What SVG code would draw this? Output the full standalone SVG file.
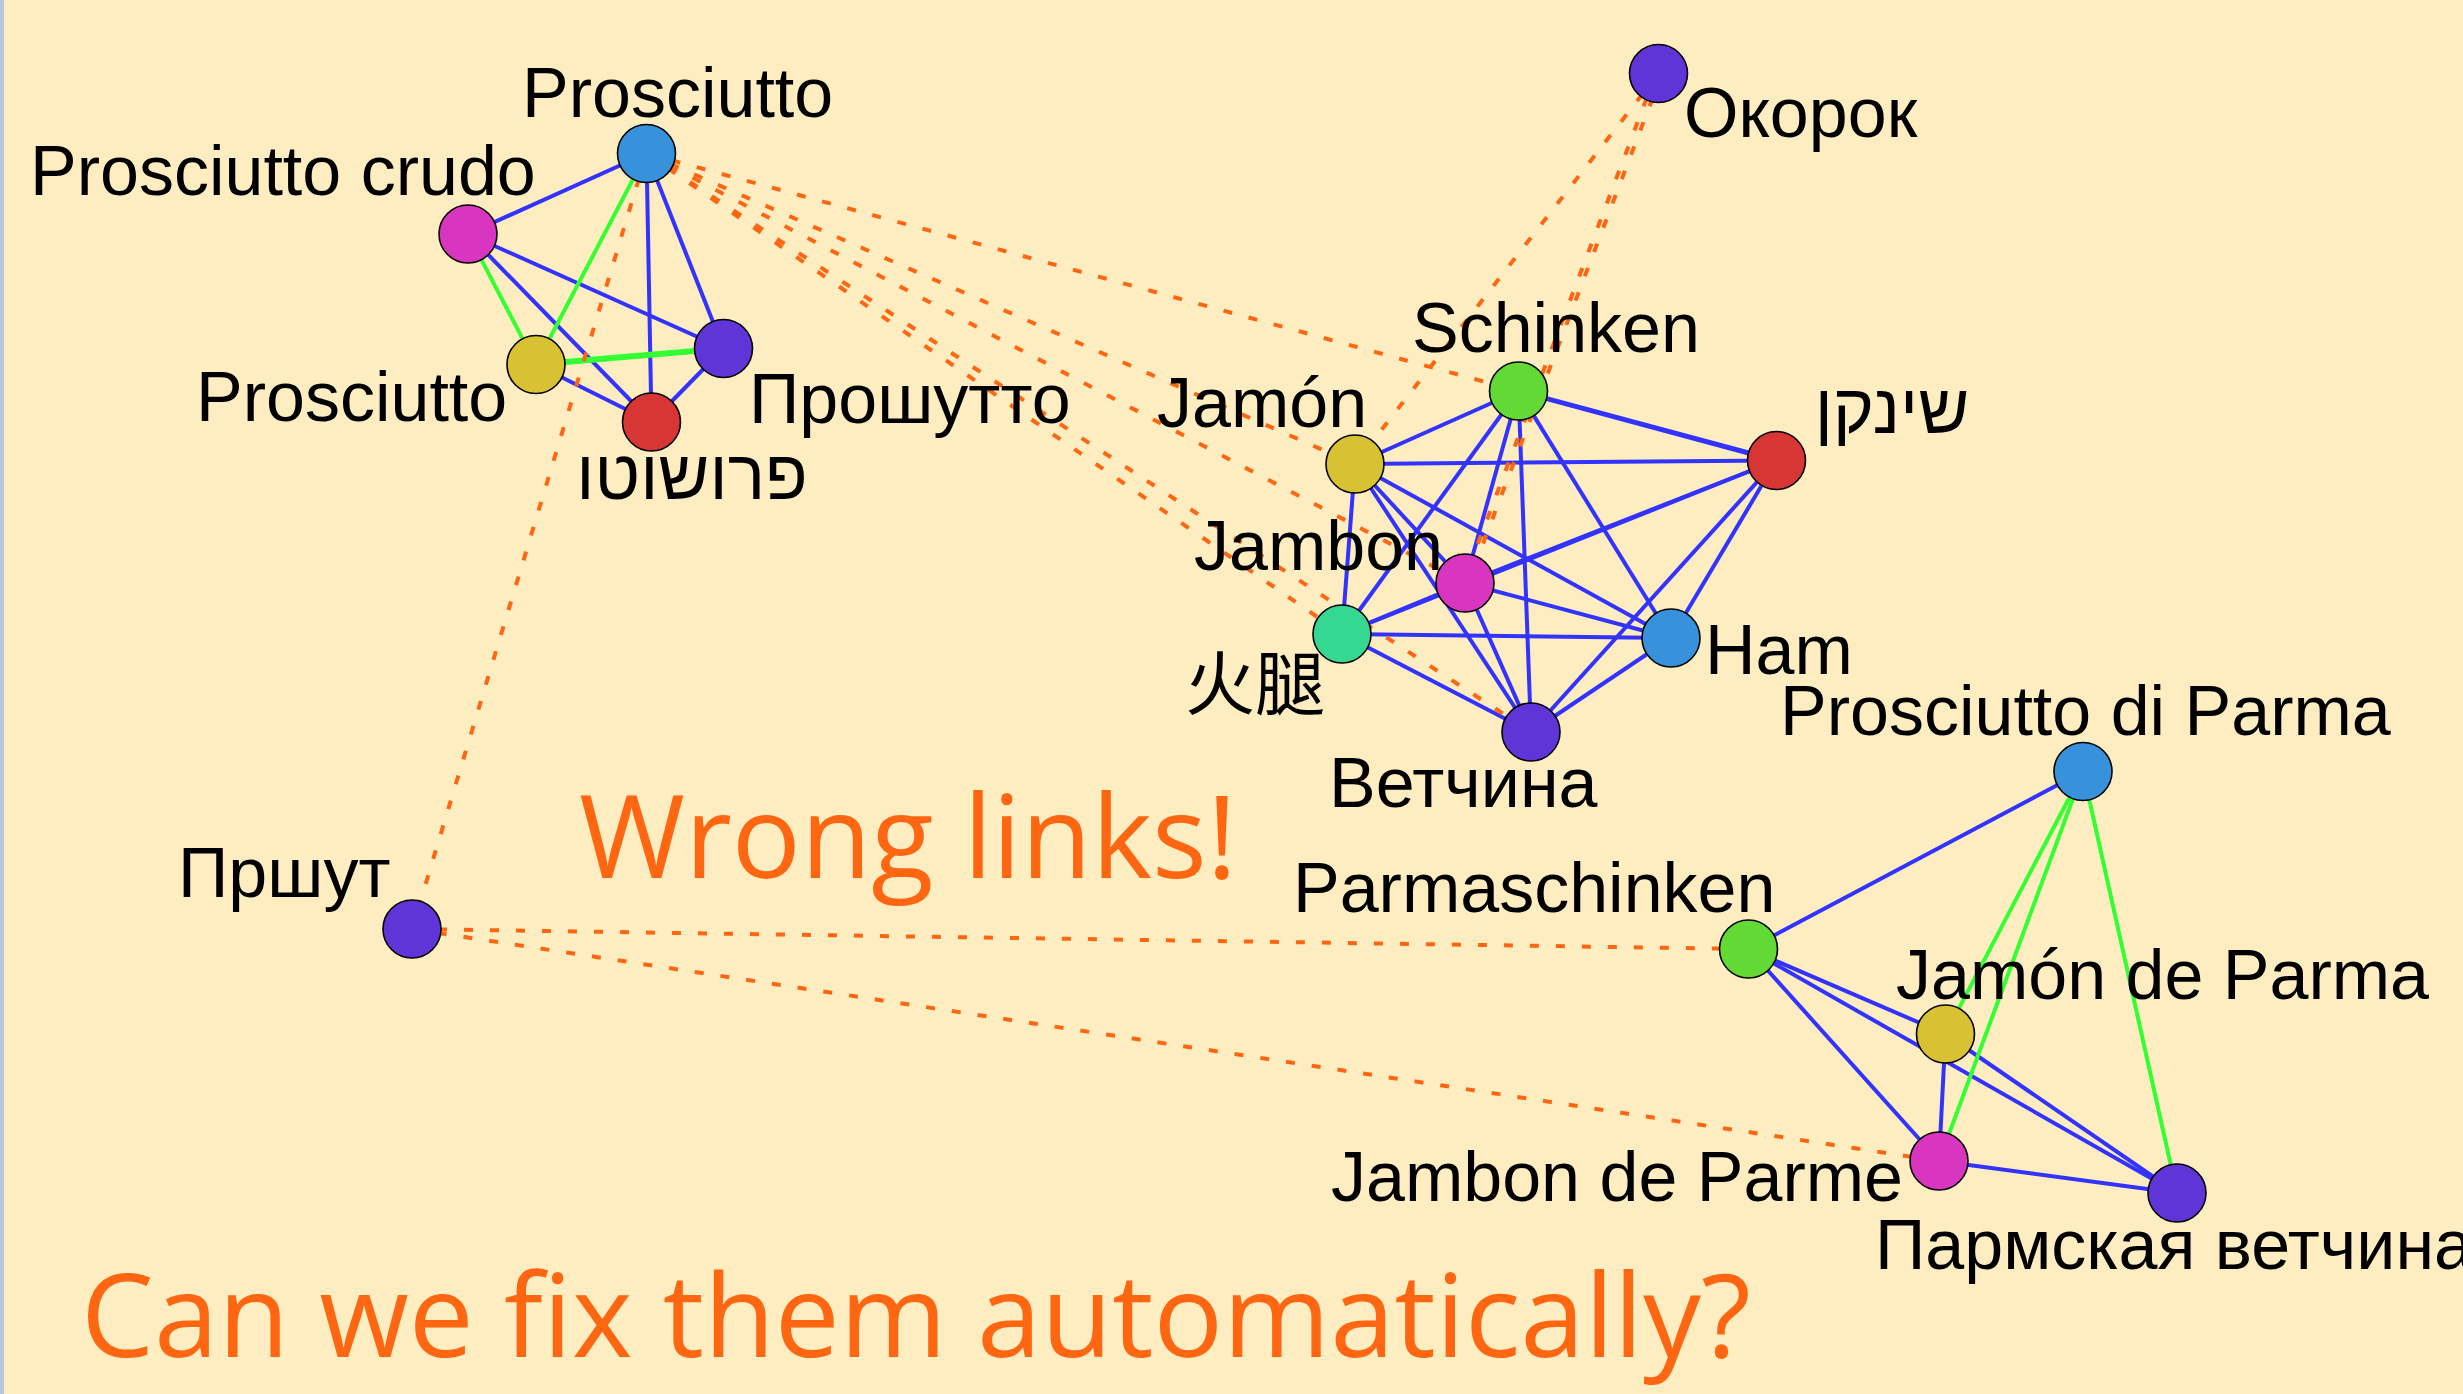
<svg xmlns="http://www.w3.org/2000/svg" width="2463" height="1394" viewBox="0 0 2463 1394">
<style>
.e{stroke:#3333ff;stroke-width:4;fill:none}
.g{stroke:#33ff33;stroke-width:4;fill:none}
.d{stroke:#ff6611;stroke-width:4;stroke-dasharray:9 17;fill:none}
.n{stroke:#000;stroke-width:1.6}
.blue{fill:#3891db}.mag{fill:#d835c1}.yel{fill:#d9c134}.pur{fill:#6035d8}.red{fill:#d83535}.grn{fill:#63d936}.teal{fill:#35d891}
.l{font-family:"Liberation Sans",Arial,"Noto Sans CJK SC",sans-serif;font-size:70px;fill:#000}
.t{font-family:"Open Sans","Noto Sans",sans-serif;font-size:116px;fill:#ff6611}
</style>
<rect width="2463" height="1394" fill="#ffedc2"/>
<rect width="4" height="1394" fill="#b8c5e0"/>
<g id="connectors">
<line class="e" x1="646.5" y1="153.5" x2="468" y2="234"/>
<line class="e" x1="646.5" y1="153.5" x2="651.5" y2="422"/>
<line class="e" x1="646.5" y1="153.5" x2="723.5" y2="348.5"/>
<line class="e" x1="468" y1="234" x2="723.5" y2="348.5"/>
<line class="e" x1="468" y1="234" x2="651.5" y2="422"/>
<line class="e" x1="536" y1="364.5" x2="651.5" y2="422"/>
<line class="e" x1="723.5" y1="348.5" x2="651.5" y2="422"/>
<line class="g" x1="646.5" y1="153.5" x2="536" y2="364.5"/>
<line class="g" x1="468" y1="234" x2="536" y2="364.5"/>
<line class="g" x1="536" y1="364.5" x2="723.5" y2="348.5" style="stroke-width:6"/>
<line class="e" x1="1518.5" y1="391" x2="1355" y2="464"/>
<line class="e" x1="1518.5" y1="391" x2="1776.5" y2="460.5" style="stroke-width:5"/>
<line class="e" x1="1518.5" y1="391" x2="1465" y2="583"/>
<line class="e" x1="1518.5" y1="391" x2="1342" y2="634"/>
<line class="e" x1="1518.5" y1="391" x2="1671" y2="638"/>
<line class="e" x1="1518.5" y1="391" x2="1531" y2="732"/>
<line class="e" x1="1355" y1="464" x2="1776.5" y2="460.5"/>
<line class="e" x1="1355" y1="464" x2="1465" y2="583"/>
<line class="e" x1="1355" y1="464" x2="1342" y2="634"/>
<line class="e" x1="1355" y1="464" x2="1671" y2="638"/>
<line class="e" x1="1355" y1="464" x2="1531" y2="732"/>
<line class="e" x1="1776.5" y1="460.5" x2="1465" y2="583"/>
<line class="e" x1="1776.5" y1="460.5" x2="1342" y2="634"/>
<line class="e" x1="1776.5" y1="460.5" x2="1671" y2="638"/>
<line class="e" x1="1776.5" y1="460.5" x2="1531" y2="732"/>
<line class="e" x1="1465" y1="583" x2="1342" y2="634"/>
<line class="e" x1="1465" y1="583" x2="1671" y2="638"/>
<line class="e" x1="1465" y1="583" x2="1531" y2="732"/>
<line class="e" x1="1342" y1="634" x2="1671" y2="638"/>
<line class="e" x1="1342" y1="634" x2="1531" y2="732"/>
<line class="e" x1="1671" y1="638" x2="1531" y2="732"/>
<line class="e" x1="2083" y1="771.5" x2="1748.5" y2="949"/>
<line class="e" x1="1748.5" y1="949" x2="1945.5" y2="1034"/>
<line class="e" x1="1748.5" y1="949" x2="2177" y2="1193"/>
<line class="e" x1="1748.5" y1="949" x2="1939" y2="1161"/>
<line class="e" x1="1945.5" y1="1034" x2="1939" y2="1161"/>
<line class="e" x1="1945.5" y1="1034" x2="2177" y2="1193"/>
<line class="e" x1="1939" y1="1161" x2="2177" y2="1193"/>
<line class="g" x1="2083" y1="771.5" x2="1945.5" y2="1034"/>
<line class="g" x1="2083" y1="771.5" x2="1939" y2="1161"/>
<line class="g" x1="2083" y1="771.5" x2="2177" y2="1193"/>
<line class="d" x1="646.5" y1="153.5" x2="1518.5" y2="391"/>
<line class="d" x1="646.5" y1="153.5" x2="1355" y2="464"/>
<line class="d" x1="646.5" y1="153.5" x2="1465" y2="583"/>
<line class="d" x1="646.5" y1="153.5" x2="1342" y2="634"/>
<line class="d" x1="646.5" y1="153.5" x2="1531" y2="732"/>
<line class="d" x1="646.5" y1="153.5" x2="412" y2="929"/>
<line class="d" x1="1658.5" y1="73.5" x2="1355" y2="464"/>
<line class="d" x1="1656" y1="73.5" x2="1463" y2="583"/>
<line class="d" x1="1662" y1="73.5" x2="1468" y2="583"/>
<line class="d" x1="412" y1="929" x2="1748.5" y2="949"/>
<line class="d" x1="412" y1="929" x2="1939" y2="1161"/>
</g>
<g id="n-prosciutto-it"><circle class="n blue" cx="646.5" cy="153.5" r="29"/><text class="l" x="522" y="117">Prosciutto</text></g>
<g id="n-prosciutto-crudo"><circle class="n mag" cx="468" cy="234" r="29"/><text class="l" x="30" y="195">Prosciutto crudo</text></g>
<g id="n-prosciutto-en"><circle class="n yel" cx="536" cy="364.5" r="29"/><text class="l" x="196" y="421">Prosciutto</text></g>
<g id="n-proshutto-ru"><circle class="n pur" cx="723.5" cy="348.5" r="29"/><text class="l" x="749" y="423">Прошутто</text></g>
<g id="n-prosciutto-he"><circle class="n red" cx="651.5" cy="422" r="29"/><text class="l" x="692" y="499" text-anchor="middle">פרושוטו</text></g>
<g id="n-okorok"><circle class="n pur" cx="1658.5" cy="73.5" r="29"/><text class="l" x="1684" y="137">Окорок</text></g>
<g id="n-schinken"><circle class="n grn" cx="1518.5" cy="391" r="29"/><text class="l" x="1412" y="352">Schinken</text></g>
<g id="n-jamon"><circle class="n yel" cx="1355" cy="464" r="29"/><text class="l" x="1157" y="427">Jamón</text></g>
<g id="n-shinken-he"><circle class="n red" cx="1776.5" cy="460.5" r="29"/><text class="l" x="1892" y="433" text-anchor="middle">שינקן</text></g>
<g id="n-jambon"><circle class="n mag" cx="1465" cy="583" r="29"/><text class="l" x="1194" y="570">Jambon</text></g>
<g id="n-huotui"><circle class="n teal" cx="1342" cy="634" r="29"/><text class="l" x="1185" y="710" style="font-family:'Noto Sans CJK SC',sans-serif">火腿</text></g>
<g id="n-ham"><circle class="n blue" cx="1671" cy="638" r="29"/><text class="l" x="1705" y="674">Ham</text></g>
<g id="n-vetchina"><circle class="n pur" cx="1531" cy="732" r="29"/><text class="l" x="1329" y="807">Ветчина</text></g>
<g id="n-prosciutto-parma"><circle class="n blue" cx="2083" cy="771.5" r="29"/><text class="l" x="1780" y="735">Prosciutto di Parma</text></g>
<g id="n-parmaschinken"><circle class="n grn" cx="1748.5" cy="949" r="29"/><text class="l" x="1293" y="912">Parmaschinken</text></g>
<g id="n-jamon-parma"><circle class="n yel" cx="1945.5" cy="1034" r="29"/><text class="l" x="1896" y="999">Jamón de Parma</text></g>
<g id="n-jambon-parme"><circle class="n mag" cx="1939" cy="1161" r="29"/><text class="l" x="1331" y="1201">Jambon de Parme</text></g>
<g id="n-parmskaya"><circle class="n pur" cx="2177" cy="1193" r="29"/><text class="l" x="1875" y="1269">Пармская ветчина</text></g>
<g id="n-prshut"><circle class="n pur" cx="412" cy="929" r="29"/><text class="l" x="178" y="897">Пршут</text></g>
<text class="t" x="579" y="878" textLength="658" lengthAdjust="spacingAndGlyphs">Wrong links!</text>
<text class="t" x="81" y="1357" textLength="1670" lengthAdjust="spacingAndGlyphs">Can we fix them automatically?</text>
</svg>
